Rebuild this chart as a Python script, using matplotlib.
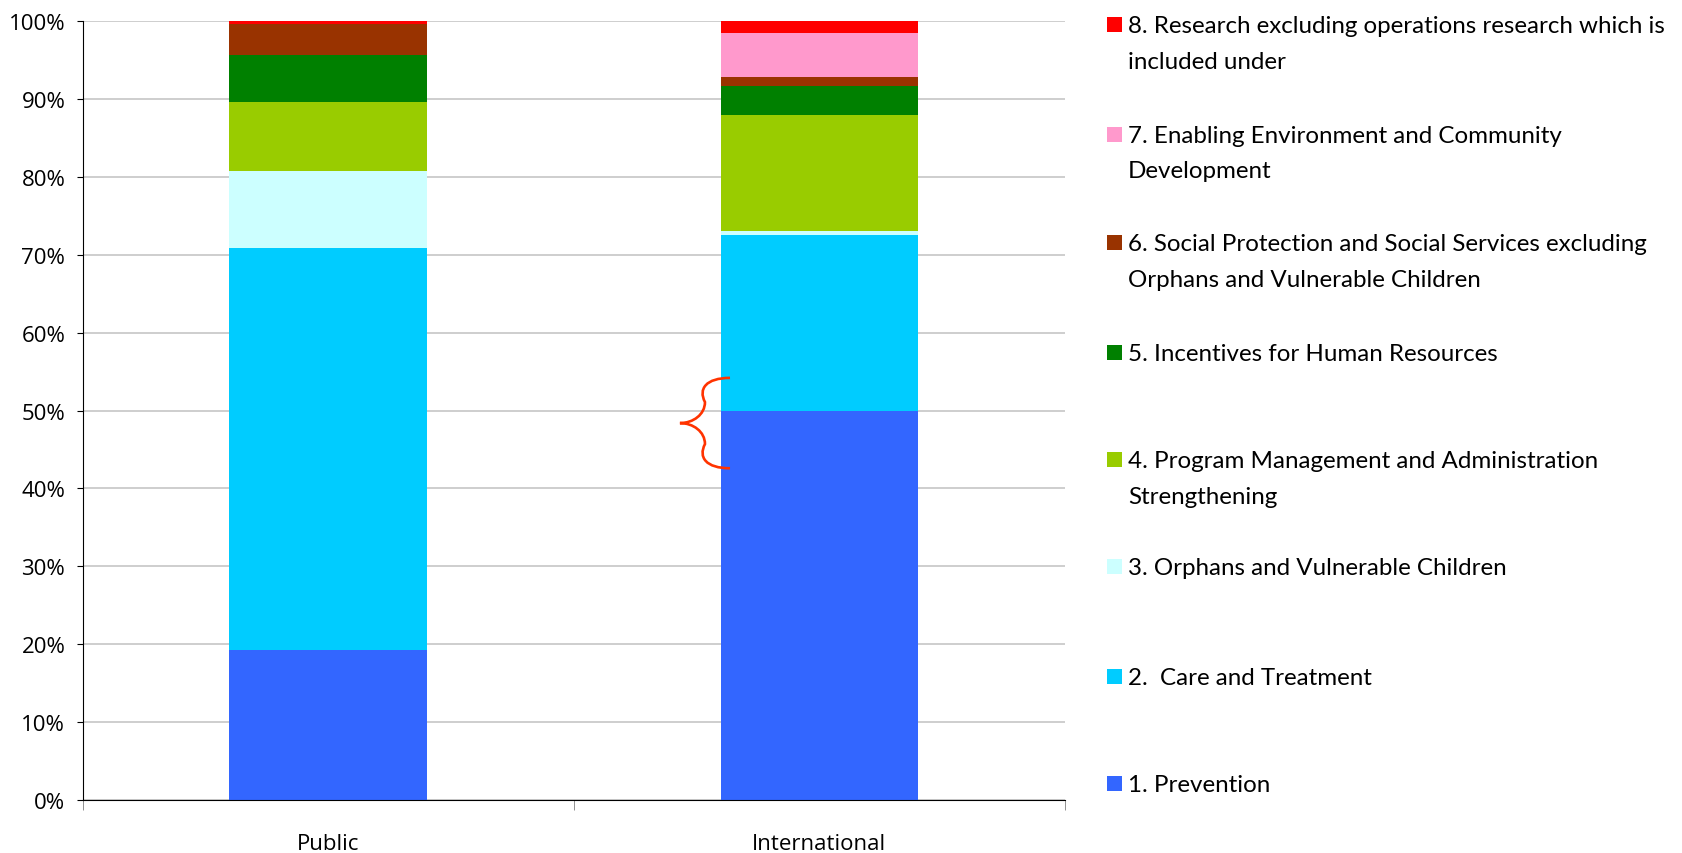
import matplotlib

matplotlib.use("Agg")
import matplotlib.pyplot as plt
import numpy as np
from matplotlib.patches import PathPatch, Rectangle
from matplotlib.path import Path
from matplotlib.ticker import FuncFormatter

# data, % of total per funding source
sources = ["Public", "International"]
categories = [
    "1. Prevention",
    "2.  Care and Treatment",
    "3. Orphans and Vulnerable Children",
    "4. Program Management and Administration\nStrengthening",
    "5. Incentives for Human Resources",
    "6. Social Protection and Social Services excluding\nOrphans and Vulnerable Children",
    "7. Enabling Environment and Community\nDevelopment",
    "8. Research excluding operations research which is\nincluded under",
]
public = [19.3, 51.6, 9.9, 8.8, 6.1, 3.95, 0.0, 0.35]
international = [49.9, 22.65, 0.5, 14.9, 3.7, 1.15, 5.65, 1.55]
colors = ["#3366FF", "#00CCFF", "#CCFFFF", "#99CC00", "#008000", "#993300", "#FF99CC", "#FF0000"]

fig = plt.figure(figsize=(16.83, 8.54), dpi=100)
ax = fig.add_axes([0.0491, 0.0621, 0.5837, 0.9118])

x = np.arange(len(sources))
bottom = np.zeros(len(sources))
for i, col in enumerate(colors):
    vals = np.array([public[i], international[i]])
    ax.bar(x, vals, width=0.402, bottom=bottom, color=col, zorder=2, linewidth=0)
    bottom += vals

ax.set_xlim(-0.5, 1.5)
ax.set_ylim(0, 100)
ax.set_yticks(np.arange(0, 101, 10))
ax.yaxis.set_major_formatter(FuncFormatter(lambda v, _: f"{v:.0f}%"))
ax.yaxis.grid(True, color="#C6C6C6", linewidth=1.2, zorder=0)
ax.set_axisbelow(True)

ax.set_xticks(x)
ax.set_xticklabels(sources)
ax.set_xticks([-0.5, 0.5, 1.5], minor=True)
ax.tick_params(axis="x", which="major", length=0, pad=23.5, labelsize=16)
ax.tick_params(axis="x", which="minor", length=7, color="#808080", direction="out")
ax.tick_params(axis="y", length=4.5, pad=8, labelsize=16, direction="out")
for lbl in ax.get_xticklabels() + ax.get_yticklabels():
    lbl.set_fontfamily("Open Sans")

for s in ("top", "right"):
    ax.spines[s].set_visible(False)
ax.spines["left"].set_color("black")
ax.spines["bottom"].set_color("black")

# curly brace next to International bar
brace = [
    (0.818, 54.2), (0.769, 54.2), (0.753, 52.8), (0.767, 51.1),
    (0.767, 49.5), (0.743, 48.4), (0.716, 48.4),
    (0.743, 48.4), (0.767, 47.3), (0.767, 45.7),
    (0.753, 44.0), (0.769, 42.6), (0.818, 42.6),
]
codes = [Path.MOVETO] + [Path.CURVE4] * 12
ax.add_patch(PathPatch(Path(brace, codes), facecolor="none", edgecolor="#FF3300",
                       linewidth=1.9, zorder=3, clip_on=False))

# legend, drawn by hand (top entry first)
legend_y = [784.6, 677.3, 567.8, 460.5, 353.1, 243.6, 135.2, 25.8]  # first-line centre, px from top
H = 854.0
W = 1683.0
for label, col, py in zip(categories, colors, legend_y):
    fy = 1 - py / H
    fig.patches.append(Rectangle((1107 / W, fy - 7.5 / H), 15 / W, 15 / H,
                                 transform=fig.transFigure, facecolor=col,
                                 edgecolor="none"))
    fig.text(1128 / W, fy + 9.5 / H, label, ha="left", va="top", fontsize=17.4,
             family="Lato", linespacing=1.86, color="black")

fig.savefig("out.png", dpi=100)
